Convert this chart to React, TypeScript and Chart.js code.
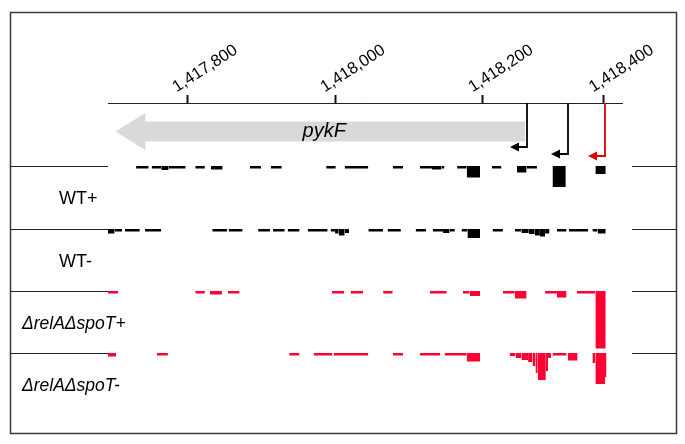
import React, { useEffect, useRef } from 'react';
import { Chart, registerables } from 'chart.js';

Chart.register(...registerables);

// ---------- data ----------
const viewStart = 1417693;
const viewEnd = 1418388;

const axisTickLabels = ['1,417,800', '1,418,000', '1,418,200', '1,418,400'];
const axisTickPositions = [1417800, 1418000, 1418200, 1418363];

const geneName = 'pykF';
const geneStart = 1417707; // arrow tip (minus strand)
const geneEnd = 1418257;

const promoterPositions = [1418259, 1418315, 1418365];

const trackNames = ['WT+', 'WT-', '\u0394relA\u0394spoT+', '\u0394relA\u0394spoT-'];

// coverage segments: [start, end, depth]
const wtPlus: number[][] = [
  [1417731, 1417748, 2.5], [1417752, 1417765, 2.5], [1417765, 1417775, 4], [1417775, 1417798, 2.5],
  [1417811, 1417824, 2.5], [1417832, 1417848, 3.5], [1417885, 1417900, 2.5], [1417913, 1417928, 2.5],
  [1417988, 1418001, 2.5], [1418013, 1418045, 2.5], [1418078, 1418092, 2.5], [1418115, 1418131, 2.5],
  [1418131, 1418144, 3.5], [1418144, 1418148, 2.5], [1418165, 1418178, 2.5], [1418178, 1418196, 11.5],
  [1418212, 1418225, 2.5], [1418246, 1418259, 6.5], [1418259, 1418273, 2.5], [1418294, 1418312, 21],
  [1418352, 1418366, 8],
];

const wtMinus: number[][] = [
  [1417693, 1417702, 4.5], [1417702, 1417712, 2.5], [1417716, 1417736, 2.5], [1417743, 1417765, 2.5],
  [1417834, 1417854, 2.5], [1417856, 1417875, 2.5], [1417896, 1417912, 2.5], [1417916, 1417932, 2.5],
  [1417936, 1417952, 2.5], [1417963, 1417990, 2.5], [1417994, 1418000, 2.5], [1418000, 1418005, 4.5],
  [1418005, 1418013, 6.5], [1418013, 1418019, 4], [1418045, 1418065, 2.5], [1418071, 1418089, 2.5],
  [1418109, 1418123, 2.5], [1418132, 1418146, 2.5], [1418146, 1418155, 4], [1418155, 1418162, 2.5],
  [1418171, 1418179, 2.5], [1418179, 1418196, 9], [1418213, 1418227, 2.5], [1418243, 1418252, 2.5],
  [1418252, 1418262, 4], [1418262, 1418270, 5], [1418270, 1418277, 6.5], [1418277, 1418284, 7.5],
  [1418284, 1418290, 4.5], [1418300, 1418313, 2.5], [1418316, 1418342, 2.5], [1418348, 1418355, 2.5],
  [1418355, 1418366, 4.5],
];

const mutPlus: number[][] = [
  [1417693, 1417707, 2.5], [1417811, 1417824, 2.5], [1417831, 1417847, 3.5], [1417855, 1417871, 2.5],
  [1417996, 1418012, 2.5], [1418021, 1418038, 2.5], [1418065, 1418078, 2.5], [1418128, 1418151, 2.5],
  [1418173, 1418182, 2.5], [1418182, 1418196, 5], [1418227, 1418243, 2.5], [1418243, 1418259, 7.5],
  [1418284, 1418300, 2.5], [1418300, 1418313, 6.5], [1418327, 1418352, 2.5], [1418352, 1418366, 57.5],
];

const mutMinus: number[][] = [
  [1417693, 1417704, 3.5], [1417759, 1417774, 2.5], [1417938, 1417952, 2.5], [1417971, 1417996, 2.5],
  [1417998, 1418045, 2.5], [1418078, 1418092, 2.5], [1418115, 1418142, 2.5], [1418148, 1418178, 2.5],
  [1418178, 1418196, 8.5], [1418236, 1418244, 3], [1418244, 1418252, 5], [1418252, 1418261, 7],
  [1418261, 1418267, 9], [1418267, 1418271, 13], [1418271, 1418274, 20], [1418274, 1418285, 27],
  [1418285, 1418288, 18], [1418288, 1418292, 5], [1418294, 1418313, 2.5], [1418315, 1418328, 7.5],
  [1418348, 1418352, 10], [1418352, 1418365, 31], [1418365, 1418367, 24],
];

// ---------- style ----------
const BLACK = '#000000';
const RED = '#ff0033';
const GENE_GRAY = '#d9d9d9';
const FONT = '"Liberation Sans", Arial, sans-serif';

const Y_MAX = 312; // vertical units of the plot area (1 unit = 1px)
const trackBaselines = [64, 127, 189, 251];
const trackColors = [BLACK, BLACK, RED, RED];
const trackLabelX = [59, 59, 22, 22];
const trackLabelFont = [`18px ${FONT}`, `18px ${FONT}`, `italic 17.5px ${FONT}`, `italic 17.5px ${FONT}`];
const geneCenter = 28.5;
const promoterDrops = [44, 51, 53];
const promoterColors = [BLACK, BLACK, '#e00000'];

function toLine(segs: number[][], base: number) {
  const pts: { x: number; y: number | null }[] = [];
  segs.forEach(([s, e, d]) => {
    pts.push({ x: s, y: base + d });
    pts.push({ x: e, y: base + d });
    pts.push({ x: e, y: null });
  });
  return pts;
}

const overlay = {
  id: 'overlay',
  afterDraw(chart: any) {
    const { ctx, chartArea, scales } = chart;
    const xs = scales.x;
    const ys = scales.y;
    ctx.save();

    // outer frame
    ctx.strokeStyle = '#3a3a3a';
    ctx.lineWidth = 1.5;
    ctx.strokeRect(10.5, 12.5, 666, 421);

    // track separator lines
    ctx.strokeStyle = '#222';
    ctx.lineWidth = 1;
    trackBaselines.forEach((b) => {
      const py = Math.round(ys.getPixelForValue(b)) - 0.5;
      ctx.beginPath();
      ctx.moveTo(10, py);
      ctx.lineTo(chartArea.left, py);
      ctx.moveTo(chartArea.right + 10, py);
      ctx.lineTo(677, py);
      ctx.stroke();
    });

    // gene arrow
    const tip = xs.getPixelForValue(geneStart) - 3;
    const end = xs.getPixelForValue(geneEnd);
    const cy = ys.getPixelForValue(geneCenter);
    const bodyH = 10;
    const headH = 18.5;
    const headL = 30;
    ctx.fillStyle = GENE_GRAY;
    ctx.beginPath();
    ctx.moveTo(tip, cy);
    ctx.lineTo(tip + headL, cy - headH);
    ctx.lineTo(tip + headL, cy - bodyH);
    ctx.lineTo(end, cy - bodyH);
    ctx.lineTo(end, cy + bodyH);
    ctx.lineTo(tip + headL, cy + bodyH);
    ctx.lineTo(tip + headL, cy + headH);
    ctx.closePath();
    ctx.fill();
    ctx.fillStyle = '#000';
    ctx.font = `italic 20px ${FONT}`;
    ctx.textAlign = 'center';
    ctx.textBaseline = 'middle';
    ctx.fillText(geneName, (tip + end) / 2 + 4, cy);

    // promoter arrows
    promoterPositions.forEach((p, i) => {
      const px = Math.round(xs.getPixelForValue(p));
      const bottom = Math.round(ys.getPixelForValue(promoterDrops[i]));
      ctx.strokeStyle = promoterColors[i];
      ctx.fillStyle = promoterColors[i];
      ctx.lineWidth = 1.8;
      ctx.beginPath();
      ctx.moveTo(px, chartArea.top);
      ctx.lineTo(px, bottom);
      ctx.lineTo(px - 9, bottom);
      ctx.stroke();
      ctx.beginPath();
      ctx.moveTo(px - 17, bottom);
      ctx.lineTo(px - 8, bottom - 4.5);
      ctx.lineTo(px - 8, bottom + 4.5);
      ctx.closePath();
      ctx.fill();
    });

    // track labels
    ctx.fillStyle = '#000';
    ctx.textAlign = 'left';
    ctx.textBaseline = 'middle';
    trackNames.forEach((name, i) => {
      const top = ys.getPixelForValue(trackBaselines[i]);
      const bot = i < 3 ? ys.getPixelForValue(trackBaselines[i + 1]) : top + 62;
      ctx.font = trackLabelFont[i];
      ctx.fillText(name, trackLabelX[i], (top + bot) / 2 + 1);
    });
    ctx.restore();
  },
};

export default function App() {
  const ref = useRef<HTMLCanvasElement>(null);
  useEffect(() => {
    if (!ref.current) return;
    const datasets = [wtPlus, wtMinus, mutPlus, mutMinus].map((segs, i) => ({
      label: trackNames[i],
      data: toLine(segs, trackBaselines[i] - 1),
      borderWidth: 0,
      borderColor: 'rgba(0,0,0,0)',
      backgroundColor: trackColors[i],
      pointRadius: 0,
      fill: { value: trackBaselines[i] - 1 },
      spanGaps: false,
      tension: 0,
    }));
    const chart = new Chart(ref.current, {
      type: 'line',
      data: { datasets },
      options: {
        animation: false,
        responsive: false,
        devicePixelRatio: 1,
        layout: { padding: { left: 108, right: 63, top: 0, bottom: 29 } },
        plugins: { legend: { display: false }, tooltip: { enabled: false } },
        scales: {
          x: {
            type: 'linear',
            position: 'top',
            min: viewStart,
            max: viewEnd,
            afterBuildTicks: (scale: any) => {
              scale.ticks = axisTickPositions.map((v) => ({ value: v }));
            },
            afterFit: (scale: any) => {
              scale.height = 103;
            },
            ticks: {
              autoSkip: false,
              minRotation: 33,
              maxRotation: 33,
              padding: -2,
              labelOffset: -2,
              color: '#000',
              font: { family: FONT, size: 16.5 },
              callback: (_v: any, i: number) => axisTickLabels[i],
            },
            grid: {
              drawOnChartArea: false,
              drawTicks: true,
              tickLength: 8,
              tickWidth: 2,
              tickColor: '#111',
            },
            border: { display: true, color: '#222', width: 1 },
          },
          y: { display: false, min: 0, max: Y_MAX, reverse: true },
        },
      },
      plugins: [overlay],
    });
    return () => chart.destroy();
  }, []);
  return (
    <div style={{ position: 'absolute', left: 0, top: 0, width: 685, height: 444, background: '#fff' }}>
      <canvas ref={ref} width={685} height={444} />
    </div>
  );
}
